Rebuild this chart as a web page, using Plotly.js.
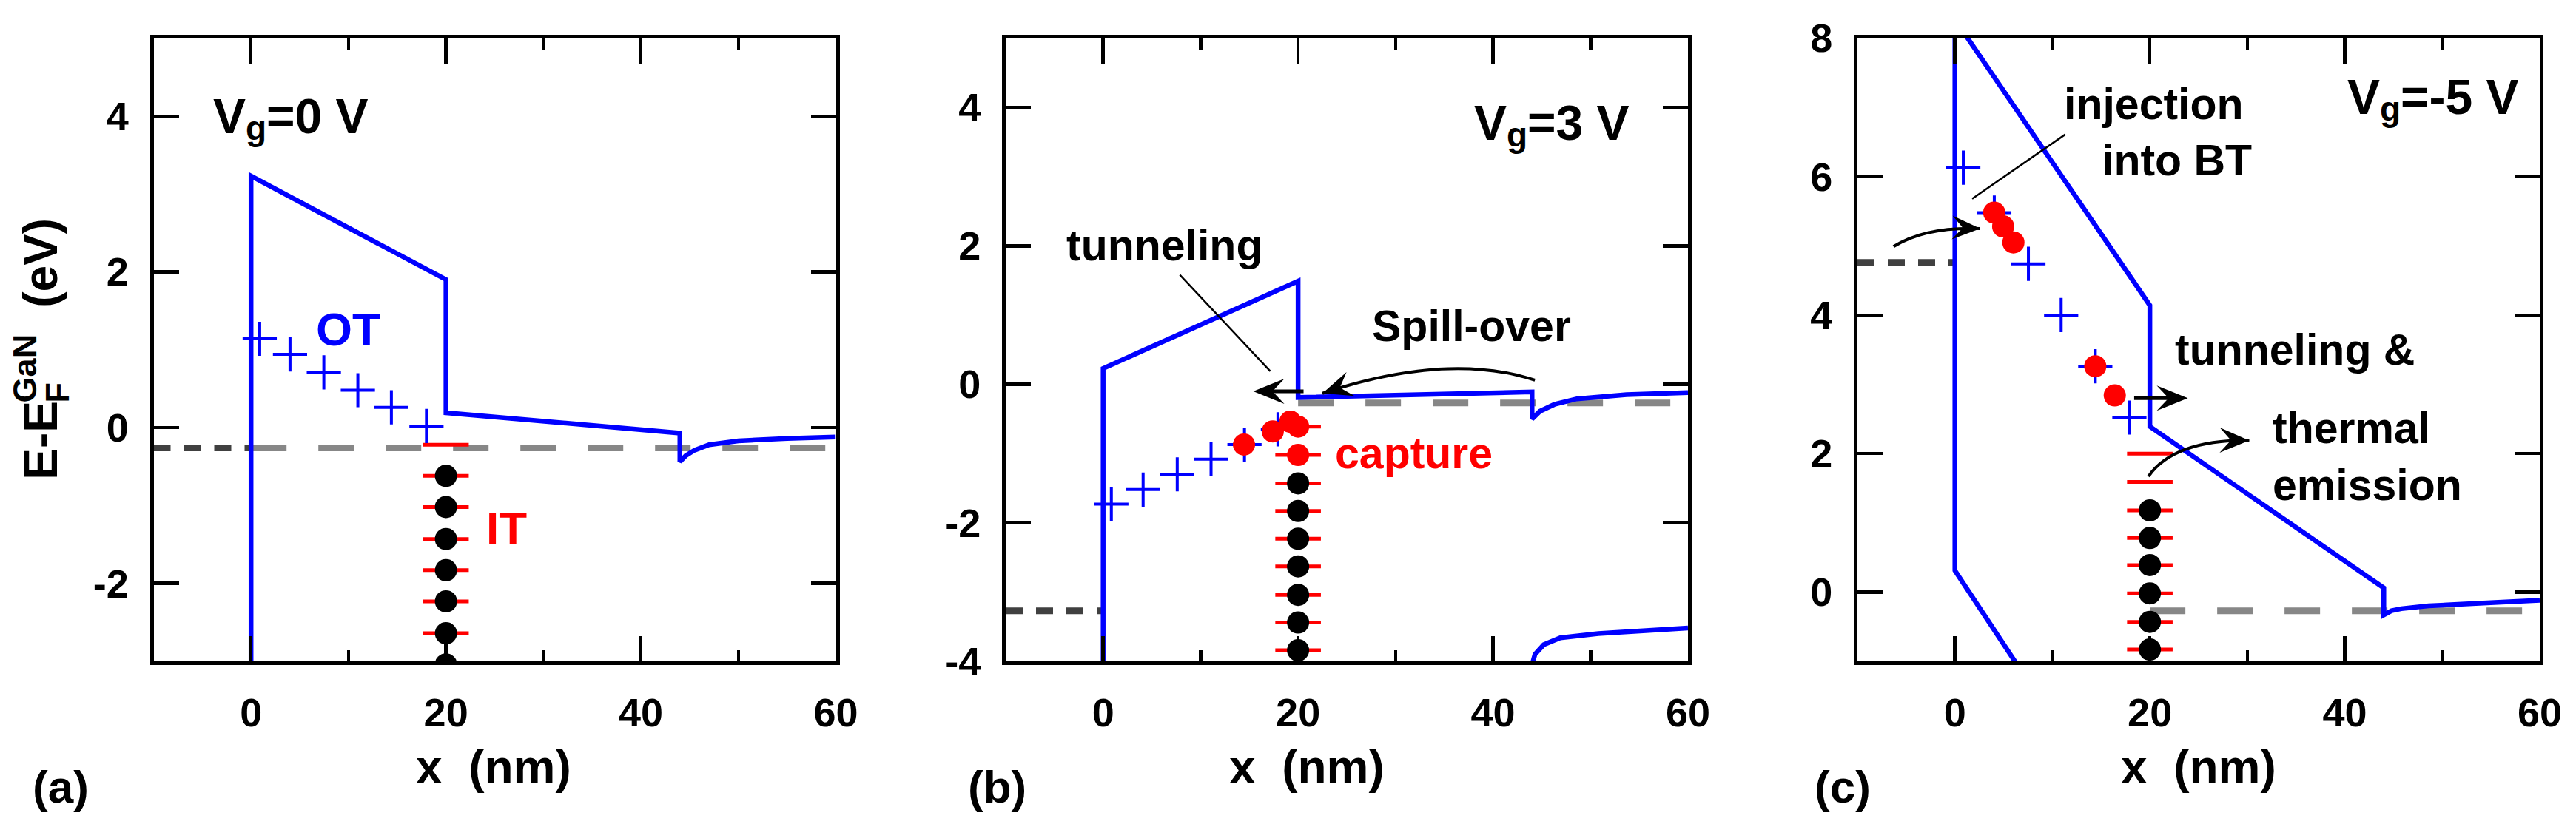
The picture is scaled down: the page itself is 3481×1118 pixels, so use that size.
<!DOCTYPE html>
<html>
<head>
<meta charset="utf-8">
<script src="https://cdn.plot.ly/plotly-3.0.1.min.js"></script>
<style>html,body{margin:0;padding:0;background:#fff;}#chart{width:3481px;height:1118px;}</style>
</head>
<body>
<div id="chart"></div>
<script>
// ---------------- Panel (a): Vg = 0 V ----------------
const aBandX = [0, 0, 20, 20, 44, 44, 44.6, 45.5, 47, 50, 55, 60];
const aBandY = [-3.5, 3.23, 1.9, 0.19, -0.07, -0.44, -0.36, -0.29, -0.22, -0.17, -0.14, -0.12];
const aMetalEfX = [-10, 0];
const aMetalEfY = [-0.26, -0.26];
const aGaNEfX = [0, 60];
const aGaNEfY = [-0.26, -0.26];
const aOTx = [0.89, 4.0, 7.47, 10.96, 14.4, 18.0];
const aOTy = [1.14, 0.94, 0.71, 0.48, 0.26, 0.02];
const aITx = [20, 20, 20, 20, 20, 20, 20, 20];
const aITy = [-0.22, -0.62, -1.02, -1.43, -1.83, -2.23, -2.64, -3.04];
const aFilledX = [20, 20, 20, 20, 20, 20, 20];
const aFilledY = [-0.62, -1.02, -1.43, -1.83, -2.23, -2.64, -3.04];

// ---------------- Panel (b): Vg = 3 V ----------------
const bBandX = [0, 0, 20, 20, 44, 44, 44.8, 46.3, 48.6, 53.7, 60];
const bBandY = [-4.5, 0.23, 1.49, -0.19, -0.11, -0.50, -0.39, -0.29, -0.21, -0.15, -0.12];
const bLowX = [44, 44.3, 45.2, 46.9, 50.8, 55.3, 60];
const bLowY = [-4.05, -3.9, -3.76, -3.66, -3.60, -3.56, -3.52];
const bMetalEfX = [-10, 0];
const bMetalEfY = [-3.27, -3.27];
const bGaNEfX = [20, 60];
const bGaNEfY = [-0.27, -0.27];
const bOTx = [0.84, 4.1, 7.6, 11.07, 14.5, 17.93];
const bOTy = [-1.73, -1.52, -1.30, -1.08, -0.87, -0.65];
const bITx = [20, 20, 20, 20, 20, 20, 20, 20, 20];
const bITy = [-0.61, -1.02, -1.43, -1.83, -2.23, -2.63, -3.04, -3.44, -3.84];
const bFilledX = [20, 20, 20, 20, 20, 20, 20];
const bFilledY = [-1.43, -1.83, -2.23, -2.63, -3.04, -3.44, -3.84];
const bCapturedX = [14.45, 17.4, 19.2, 20, 20];
const bCapturedY = [-0.87, -0.68, -0.54, -0.61, -1.02];

// ---------------- Panel (c): Vg = -5 V ----------------
const cUpperX = [0, 20, 20, 44, 44, 44.8, 45.8, 48.6, 54.2, 60];
const cUpperY = [8.27, 4.14, 2.39, 0.06, -0.33, -0.27, -0.24, -0.20, -0.16, -0.12];
const cLowerX = [0, 0, 7];
const cLowerY = [9, 0.31, -1.18];
const cMetalEfX = [-10, 0];
const cMetalEfY = [4.76, 4.76];
const cGaNEfX = [20, 60];
const cGaNEfY = [-0.27, -0.27];
const cOTx = [0.86, 4.04, 7.54, 10.9, 14.4, 17.9];
const cOTy = [6.13, 5.48, 4.74, 4.00, 3.26, 2.52];
const cITx = [20, 20, 20, 20, 20, 20, 20, 20];
const cITy = [2.0, 1.59, 1.18, 0.78, 0.39, -0.02, -0.43, -0.83];
const cFilledX = [20, 20, 20, 20, 20, 20];
const cFilledY = [1.18, 0.78, 0.39, -0.02, -0.43, -0.83];
const cInjectedX = [4.03, 4.95, 6.0, 14.4, 16.4];
const cInjectedY = [5.48, 5.28, 5.05, 3.26, 2.84];

// ---------------- Axes / ticks ----------------
const xTickVals = [0, 20, 40, 60];
const xTickText = ['0', '20', '40', '60'];
const aYTickVals = [-2, 0, 2, 4];
const aYTickText = ['-2', '0', '2', '4'];
const bYTickVals = [-4, -2, 0, 2, 4];
const bYTickText = ['-4', '-2', '0', '2', '4'];
const cYTickVals = [0, 2, 4, 6, 8];
const cYTickText = ['0', '2', '4', '6', '8'];
const xRange = [-10, 60];
const aYRange = [-3, 5];
const bYRange = [-4, 5];
const cYRange = [-1, 8];

// ---------------- Texts ----------------
const panelLabels = ['(a)', '(b)', '(c)'];
const vgMain = 'V';
const vgSub = 'g';
const vgValues = ['=0 V', '=3 V', '=-5 V'];
const xTitle = 'x\u00a0\u00a0(nm)';
const yTitleParts = ['E-E', 'F', 'GaN', '(eV)'];

// ---------------- Arrow geometry (data coords) ----------------
const spillCurve = [[44.3, 0.06], [35.4, 0.475], [22.5, -0.13]];
const injCurve = [[-6.3, 4.99], [-3.0, 5.28], [2.6, 5.25]];
const thermCurve = [[19.85, 1.67], [22.5, 2.2], [30.2, 2.19]];
const bTunnelArrow = [[20.56, -0.10], [15.4, -0.10]];
const cTunnelArrow = [[18.39, 2.80], [23.9, 2.80]];
const bPointer = [[7.87, 1.58], [17.15, 0.19]];
const cPointer = [[11.33, 6.61], [1.77, 5.68]];

const FONT = 'Liberation Sans, Arial, Helvetica, sans-serif';
const BLUE = '#0000ff', RED = '#ff0000', LGREY = '#878787', DGREY = '#404040';
const W = 3481, H = 1118;
const px = v => v / W, py = v => 1 - v / H;
const xDomPx = [[207.5, 1129.5], [1359, 2281], [2510, 3432]];
const yDomPx = [51.5, 894];

function lineTrace(x, y, xa, ya, color, width, dash) {
  return {type: 'scatter', mode: 'lines', x: x, y: y, xaxis: xa, yaxis: ya,
          line: {color: color, width: width, dash: dash || 'solid'}, hoverinfo: 'skip'};
}
function markerTrace(x, y, xa, ya, symbol, size, color, lw) {
  return {type: 'scatter', mode: 'markers', x: x, y: y, xaxis: xa, yaxis: ya,
          marker: {symbol: symbol, size: size, color: color, line: {color: color, width: lw}}, hoverinfo: 'skip'};
}
function panelTraces(xa, ya, d) {
  const t = [];
  t.push(lineTrace(d.gx, d.gy, xa, ya, LGREY, 9, '48px,43px'));
  t.push(lineTrace(d.mx, d.my, xa, ya, DGREY, 9, '23px,18px'));
  d.bands.forEach(b => t.push(lineTrace(b[0], b[1], xa, ya, BLUE, 6.5)));
  t.push(markerTrace(d.itx, d.ity, xa, ya, 'line-ew', 44, RED, 5));
  t.push(markerTrace(d.fx, d.fy, xa, ya, 'circle', 30, '#000', 0));
  t.push(markerTrace(d.otx, d.oty, xa, ya, 'cross-thin', 33, BLUE, 4));
  if (d.rx) t.push(markerTrace(d.rx, d.ry, xa, ya, 'circle', 30, RED, 0));
  return t;
}

const data = [].concat(
  panelTraces('x', 'y', {gx: aGaNEfX, gy: aGaNEfY, mx: aMetalEfX, my: aMetalEfY,
    bands: [[aBandX, aBandY]], itx: aITx, ity: aITy, fx: aFilledX, fy: aFilledY, otx: aOTx, oty: aOTy}),
  panelTraces('x2', 'y2', {gx: bGaNEfX, gy: bGaNEfY, mx: bMetalEfX, my: bMetalEfY,
    bands: [[bBandX, bBandY], [bLowX, bLowY]], itx: bITx, ity: bITy, fx: bFilledX, fy: bFilledY,
    otx: bOTx, oty: bOTy, rx: bCapturedX, ry: bCapturedY}),
  panelTraces('x3', 'y3', {gx: cGaNEfX, gy: cGaNEfY, mx: cMetalEfX, my: cMetalEfY,
    bands: [[cUpperX, cUpperY], [cLowerX, cLowerY]], itx: cITx, ity: cITy, fx: cFilledX, fy: cFilledY,
    otx: cOTx, oty: cOTy, rx: cInjectedX, ry: cInjectedY})
);

const yDomain = [py(yDomPx[1]), py(yDomPx[0])];
const tickFont = {family: FONT, size: 54, color: '#000', weight: 'bold'};

function xAxis(i, anchor) {
  return {domain: [px(xDomPx[i][0]), px(xDomPx[i][1])], anchor: anchor, range: xRange,
    tickmode: 'array', tickvals: xTickVals, ticktext: xTickText,
    ticks: 'inside', ticklen: 34, tickwidth: 4.5, tickcolor: '#000',
    minor: {ticks: 'inside', ticklen: 15, tickwidth: 4.5, tickcolor: '#000', tickmode: 'linear', tick0: 0, dtick: 10},
    showline: true, linewidth: 5, linecolor: '#000', mirror: 'ticks', showgrid: false, zeroline: false,
    tickfont: tickFont, ticklabelstandoff: 18, fixedrange: true};
}
function yAxis(range, vals, text, anchor) {
  return {domain: yDomain, anchor: anchor, range: range, tickmode: 'array', tickvals: vals, ticktext: text,
    ticks: 'inside', ticklen: 34, tickwidth: 4.5, tickcolor: '#000',
    showline: true, linewidth: 5, linecolor: '#000', mirror: 'ticks', showgrid: false, zeroline: false,
    tickfont: tickFont, ticklabelstandoff: 18, fixedrange: true};
}

function txt(xref, yref, x, y, text, size, color, xanchor, yanchor, angle, xshift, yshift) {
  return {xref: xref, yref: yref, x: x, y: y, text: text, showarrow: false,
    xanchor: xanchor || 'center', yanchor: yanchor || 'middle', textangle: angle || 0, borderpad: 0,
    xshift: xshift || 0, yshift: yshift || 0,
    font: {family: FONT, size: size, color: color || '#000', weight: 'bold'}};
}
// "V_g=..." label built from three pieces (main letter, subscript, value)
function vgLabel(ref, x, y, value) {
  return [
    txt('x' + ref, 'y' + ref, x, y, vgMain, 66, '#000', 'left', 'top'),
    txt('x' + ref, 'y' + ref, x, y, vgSub, 46, '#000', 'left', 'top', 0, 44, -27),
    txt('x' + ref, 'y' + ref, x, y, value, 66, '#000', 'left', 'top', 0, 72, 0)
  ];
}

// pixel scale of each panel (for drawing arrow heads with the right shape)
const yRanges = [aYRange, bYRange, cYRange];
function scales(i) {
  return [(xDomPx[i][1] - xDomPx[i][0]) / (xRange[1] - xRange[0]),
          (yDomPx[1] - yDomPx[0]) / (yRanges[i][1] - yRanges[i][0])];
}
// barbed arrow head: tip point, direction from 'from' toward tip, length L px, width Wd px
function headShape(i, tip, from, L, Wd) {
  const [sx, sy] = scales(i);
  let dx = (tip[0] - from[0]) * sx, dy = (tip[1] - from[1]) * sy;
  const n = Math.hypot(dx, dy); dx /= n; dy /= n;
  const nx = -dy, ny = dx;
  const toData = (ppx, ppy) => [tip[0] + ppx / sx, tip[1] + ppy / sy];
  const c1 = toData(-L * dx + Wd / 2 * nx, -L * dy + Wd / 2 * ny);
  const c2 = toData(-L * dx - Wd / 2 * nx, -L * dy - Wd / 2 * ny);
  const nt = toData(-0.62 * L * dx, -0.62 * L * dy);
  const ref = i === 0 ? '' : String(i + 1);
  return {type: 'path', xref: 'x' + ref, yref: 'y' + ref, fillcolor: '#000', line: {width: 0},
    path: `M${tip[0]},${tip[1]} L${c1[0]},${c1[1]} L${nt[0]},${nt[1]} L${c2[0]},${c2[1]} Z`};
}
const qpath = c => `M${c[0][0]},${c[0][1]} Q${c[1][0]},${c[1][1]} ${c[2][0]},${c[2][1]}`;
function lineShape(ref, p, width) {
  return {type: 'line', xref: 'x' + ref, yref: 'y' + ref, x0: p[0][0], y0: p[0][1], x1: p[1][0], y1: p[1][1],
    line: {color: '#000', width: width}};
}
function shaftEnd(i, arrow, L) {
  // stop the straight shaft inside the head
  const [sx, sy] = scales(i);
  const dx = (arrow[1][0] - arrow[0][0]) * sx, dy = (arrow[1][1] - arrow[0][1]) * sy;
  const n = Math.hypot(dx, dy);
  const k = (n - 0.5 * L) / n;
  return [arrow[0], [arrow[0][0] + (arrow[1][0] - arrow[0][0]) * k, arrow[0][1] + (arrow[1][1] - arrow[0][1]) * k]];
}

const annotations = [].concat(
  // panel (a)
  vgLabel('', -4.0, 4.36, vgValues[0]),
  [txt('x', 'y', 9.98, 1.26, 'OT', 63, BLUE),
   txt('x', 'y', 26.25, -1.29, 'IT', 62, RED)],
  // panel (b)
  vgLabel('2', 38.0, 4.18, vgValues[1]),
  [txt('x2', 'y2', 6.3, 2.0, 'tunneling', 59),
   txt('x2', 'y2', 37.8, 0.84, 'Spill-over', 59),
   txt('x2', 'y2', 31.9, -1.0, 'capture', 59, RED)],
  // panel (c)
  vgLabel('3', 40.2, 7.56, vgValues[2]),
  [txt('x3', 'y3', 20.43, 7.045, 'injection', 59),
   txt('x3', 'y3', 22.76, 6.23, 'into BT', 59),
   txt('x3', 'y3', 34.9, 3.50, 'tunneling &amp;', 59),
   txt('x3', 'y3', 32.5, 2.36, 'thermal', 59, '#000', 'left'),
   txt('x3', 'y3', 32.5, 1.54, 'emission', 59, '#000', 'left')],
  // axis titles & panel labels
  [txt('paper', 'paper', px(667), py(1037), xTitle, 64),
   txt('paper', 'paper', px(1766), py(1037), xTitle, 64),
   txt('paper', 'paper', px(2970.5), py(1037), xTitle, 64),
   txt('paper', 'paper', px(82), py(1063.5), panelLabels[0], 62),
   txt('paper', 'paper', px(1347), py(1063.5), panelLabels[1], 62),
   txt('paper', 'paper', px(2490), py(1063.5), panelLabels[2], 62),
   txt('paper', 'paper', px(54.8), py(595), yTitleParts[0], 64, '#000', 'center', 'middle', -90),
   txt('paper', 'paper', px(77.4), py(530), yTitleParts[1], 45, '#000', 'center', 'middle', -90),
   txt('paper', 'paper', px(34.4), py(498), yTitleParts[2], 45, '#000', 'center', 'middle', -90),
   txt('paper', 'paper', px(54.8), py(355), yTitleParts[3], 64, '#000', 'center', 'middle', -90)]
);

const shapes = [
  {type: 'path', xref: 'x2', yref: 'y2', path: qpath(spillCurve), line: {color: '#000', width: 4}},
  headShape(1, spillCurve[2], spillCurve[1], 40, 34),
  {type: 'path', xref: 'x3', yref: 'y3', path: qpath(injCurve), line: {color: '#000', width: 4}},
  headShape(2, injCurve[2], injCurve[1], 38, 32),
  {type: 'path', xref: 'x3', yref: 'y3', path: qpath(thermCurve), line: {color: '#000', width: 4}},
  headShape(2, thermCurve[2], thermCurve[1], 40, 34),
  lineShape('2', shaftEnd(1, bTunnelArrow, 40), 5),
  headShape(1, bTunnelArrow[1], bTunnelArrow[0], 42, 34),
  lineShape('3', shaftEnd(2, cTunnelArrow, 40), 5),
  headShape(2, cTunnelArrow[1], cTunnelArrow[0], 42, 34),
  lineShape('2', bPointer, 2.5),
  lineShape('3', cPointer, 2.5)
];

const layout = {
  width: W, height: H, margin: {l: 0, r: 0, t: 0, b: 0}, showlegend: false,
  paper_bgcolor: '#fff', plot_bgcolor: '#fff',
  font: {family: FONT, color: '#000', weight: 'bold'},
  xaxis: xAxis(0, 'y'),
  yaxis: yAxis(aYRange, aYTickVals, aYTickText, 'x'),
  xaxis2: xAxis(1, 'y2'),
  yaxis2: yAxis(bYRange, bYTickVals, bYTickText, 'x2'),
  xaxis3: xAxis(2, 'y3'),
  yaxis3: yAxis(cYRange, cYTickVals, cYTickText, 'x3'),
  annotations: annotations,
  shapes: shapes
};

Plotly.newPlot('chart', data, layout, {displayModeBar: false, staticPlot: true});
</script>
</body>
</html>
